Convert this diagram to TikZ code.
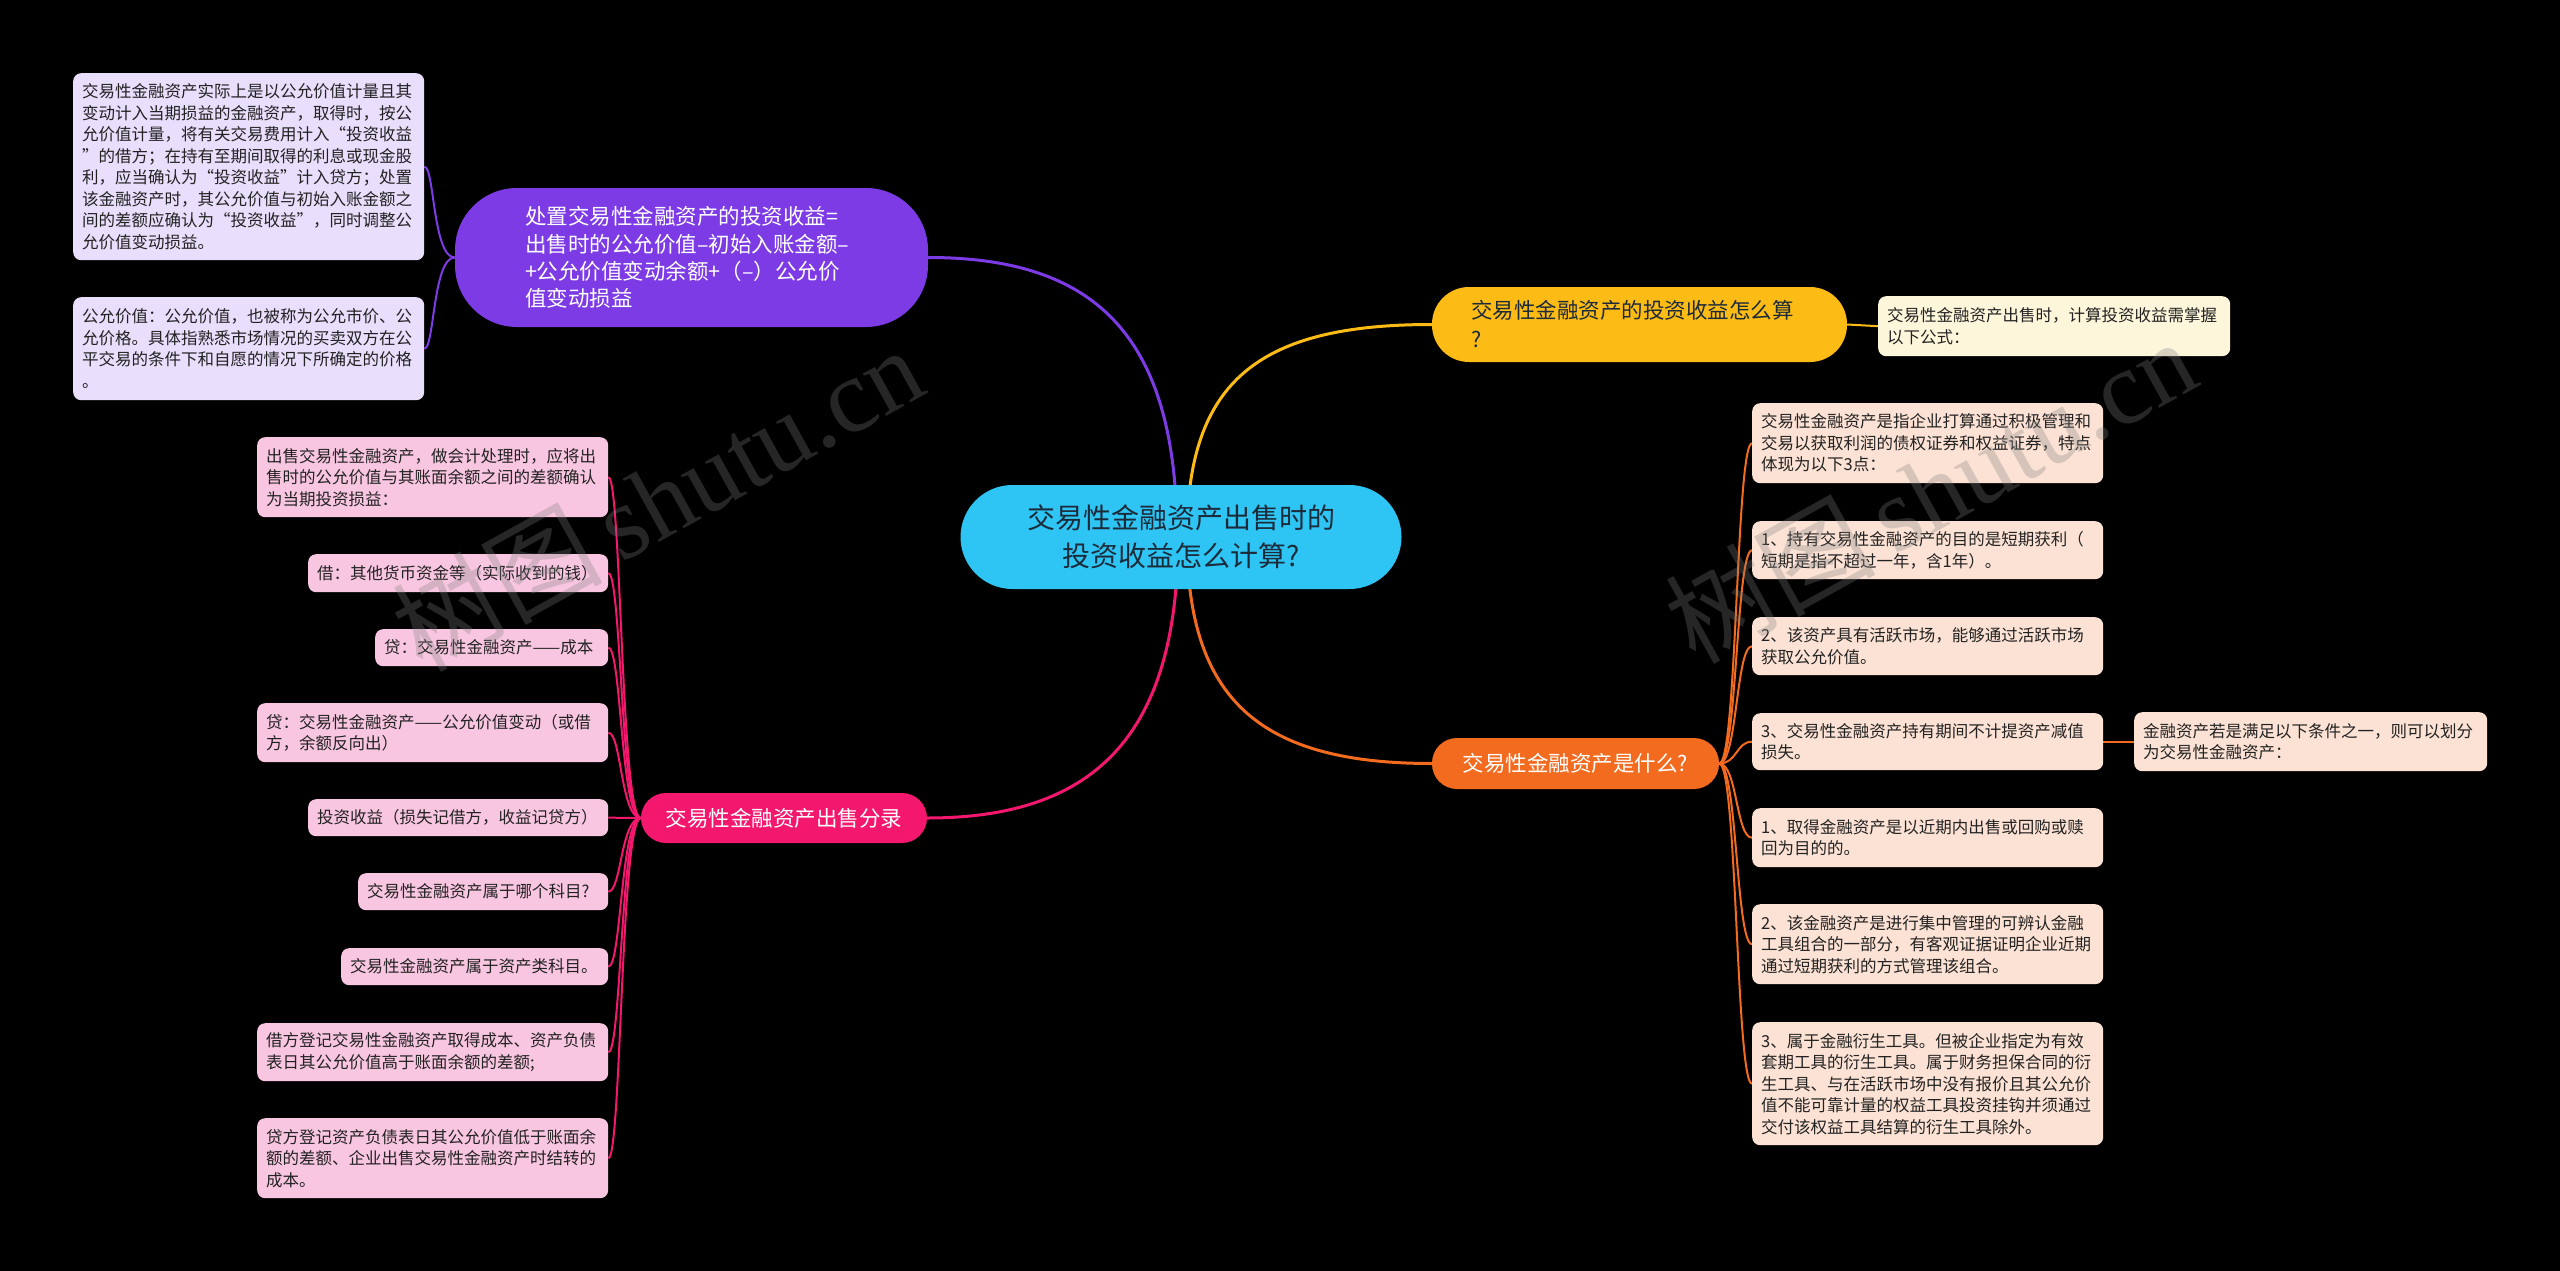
\documentclass[tikz,border=0pt]{standalone}
\usepackage{fontspec}
\setmainfont{Noto Sans CJK SC}
\newfontfamily\wmfont{Liberation Serif}
\pgfdeclarelayer{back}
\pgfdeclarelayer{links}
\pgfsetlayers{back,links,main}
\definecolor{rootc}{HTML}{2EC5F4}
\definecolor{roottext}{HTML}{1C2B3A}
\definecolor{purc}{HTML}{7D3BE6}
\definecolor{purl}{HTML}{E9DEFB}
\definecolor{yelc}{HTML}{FDBB15}
\definecolor{yell}{HTML}{FEF6DB}
\definecolor{orac}{HTML}{F26B1E}
\definecolor{oral}{HTML}{FCE2D4}
\definecolor{pinc}{HTML}{F3176E}
\definecolor{pinl}{HTML}{F9C6E1}
\definecolor{leaftext}{HTML}{222222}
\tikzset{
  leafbox/.style={rounded corners=8pt, inner xsep=9pt, inner ysep=3pt, align=left,
    anchor=north west, text=leaftext, font=\fontsize{16.5}{21.5}\selectfont},
  mainlink/.style={line width=3pt},
  leaflink/.style={line width=2pt},
  wmark/.style={rotate=29, text=gray, opacity=0.3, font=\fontsize{105}{105}\selectfont}
}
\begin{document}
\begin{tikzpicture}[x=1pt,y=-1pt]
\useasboundingbox (0,0) rectangle (2560,1271);
\begin{pgfonlayer}{back}
\fill[black] (0,0) rectangle (2560,1271);
\end{pgfonlayer}

% root
\node[fill=rootc, rounded corners=52pt, minimum width=441pt, minimum height=104pt,
  align=center, text=roottext, font=\fontsize{28}{38}\selectfont] (root) at (1181,537)
  {交易性金融资产出售时的\\投资收益怎么计算?};

% purple branch
\node[fill=purc, rounded corners=62pt, minimum width=473pt, minimum height=139pt,
  inner xsep=70pt, text width=333pt, align=left, text=white,
  font=\fontsize{21.5}{27.4}\selectfont] (pm) at (691.5,257.5)
  {处置交易性金融资产的投资收益=\\出售时的公允价值–初始入账金额–\\+公允价值变动余额+（–）公允价\\值变动损益};
\node[leafbox, fill=purl, text width=333pt, minimum height=187pt] (pa) at (73,73)
  {交易性金融资产实际上是以公允价值计量且其\\变动计入当期损益的金融资产，取得时，按公\\允价值计量，将有关交易费用计入“投资收益\\”的借方；在持有至期间取得的利息或现金股\\利，应当确认为“投资收益”计入贷方；处置\\该金融资产时，其公允价值与初始入账金额之\\间的差额应确认为“投资收益”，同时调整公\\允价值变动损益。};
\node[leafbox, fill=purl, text width=333pt, minimum height=103pt] (pb) at (73,297)
  {公允价值：公允价值，也被称为公允市价、公\\允价格。具体指熟悉市场情况的买卖双方在公\\平交易的条件下和自愿的情况下所确定的价格\\。};

% yellow branch
\node[fill=yelc, rounded corners=37pt, minimum width=415pt, minimum height=75pt,
  inner xsep=39pt, text width=337pt, align=left, text=roottext,
  font=\fontsize{21.5}{29}\selectfont] (ym) at (1639.5,324.5)
  {交易性金融资产的投资收益怎么算\\?};
\node[leafbox, fill=yell, text width=334pt, minimum height=60pt] (yl) at (1878,296)
  {交易性金融资产出售时，计算投资收益需掌握\\以下公式：};

% orange branch
\node[fill=orac, rounded corners=25pt, minimum width=287pt, minimum height=51pt,
  text=white, font=\fontsize{21.5}{26}\selectfont] (om) at (1575.5,763.5)
  {交易性金融资产是什么?};
\node[leafbox, fill=oral, text width=333pt, minimum height=80pt] (oa) at (1752,403)
  {交易性金融资产是指企业打算通过积极管理和\\交易以获取利润的债权证券和权益证券，特点\\体现为以下3点：};
\node[leafbox, fill=oral, text width=333pt, minimum height=58pt] (ob) at (1752,521)
  {1、持有交易性金融资产的目的是短期获利（\\短期是指不超过一年，含1年）。};
\node[leafbox, fill=oral, text width=333pt, minimum height=58pt] (oc) at (1752,617)
  {2、该资产具有活跃市场，能够通过活跃市场\\获取公允价值。};
\node[leafbox, fill=oral, text width=333pt, minimum height=57pt] (od) at (1752,713)
  {3、交易性金融资产持有期间不计提资产减值\\损失。};
\node[leafbox, fill=oral, text width=335pt, minimum height=59pt] (odc) at (2134,712)
  {金融资产若是满足以下条件之一，则可以划分\\为交易性金融资产：};
\node[leafbox, fill=oral, text width=333pt, minimum height=59pt] (oe) at (1752,808)
  {1、取得金融资产是以近期内出售或回购或赎\\回为目的的。};
\node[leafbox, fill=oral, text width=333pt, minimum height=80pt] (of) at (1752,904)
  {2、该金融资产是进行集中管理的可辨认金融\\工具组合的一部分，有客观证据证明企业近期\\通过短期获利的方式管理该组合。};
\node[leafbox, fill=oral, text width=333pt, minimum height=123pt] (og) at (1752,1022)
  {3、属于金融衍生工具。但被企业指定为有效\\套期工具的衍生工具。属于财务担保合同的衍\\生工具、与在活跃市场中没有报价且其公允价\\值不能可靠计量的权益工具投资挂钩并须通过\\交付该权益工具结算的衍生工具除外。};

% pink branch
\node[fill=pinc, rounded corners=25pt, minimum width=286pt, minimum height=50pt,
  text=white, font=\fontsize{21.5}{26}\selectfont] (km) at (784,818)
  {交易性金融资产出售分录};
\node[leafbox, fill=pinl, text width=333pt, minimum height=80pt] (k1) at (257,437)
  {出售交易性金融资产，做会计处理时，应将出\\售时的公允价值与其账面余额之间的差额确认\\为当期投资损益：};
\node[leafbox, fill=pinl, text width=282pt, minimum height=38pt] (k2) at (308,554)
  {借：其他货币资金等（实际收到的钱）};
\node[leafbox, fill=pinl, text width=215pt, minimum height=37pt] (k3) at (375,629)
  {贷：交易性金融资产——成本};
\node[leafbox, fill=pinl, text width=333pt, minimum height=59pt] (k4) at (257,703)
  {贷：交易性金融资产——公允价值变动（或借\\方，余额反向出）};
\node[leafbox, fill=pinl, text width=282pt, minimum height=37pt] (k5) at (308,799)
  {投资收益（损失记借方，收益记贷方）};
\node[leafbox, fill=pinl, text width=232pt, minimum height=37pt] (k6) at (358,873)
  {交易性金融资产属于哪个科目?};
\node[leafbox, fill=pinl, text width=249pt, minimum height=37pt] (k7) at (341,948)
  {交易性金融资产属于资产类科目。};
\node[leafbox, fill=pinl, text width=333pt, minimum height=58pt] (k8) at (257,1023)
  {借方登记交易性金融资产取得成本、资产负债\\表日其公允价值高于账面余额的差额;};
\node[leafbox, fill=pinl, text width=333pt, minimum height=80pt] (k9) at (257,1118)
  {贷方登记资产负债表日其公允价值低于账面余\\额的差额、企业出售交易性金融资产时结转的\\成本。};

% connectors
\begin{pgfonlayer}{links}
\draw[mainlink, purc] ([xshift=-4pt]root.center) .. controls +(0,-207) and +(162,0) .. (pm.east);
\draw[mainlink, yelc] ([xshift=6pt]root.center) .. controls +(0,-157) and +(-172,0) .. (ym.west);
\draw[mainlink, orac] ([xshift=6pt]root.center) .. controls +(0,163) and +(-172,0) .. (om.west);
\draw[mainlink, pinc] ([xshift=-3pt]root.center) .. controls +(0,203) and +(163,0) .. (km.east);

\foreach \n in {pa,pb}
  \draw[leaflink, purc] (pm.west) .. controls +(-22,0) and +(10,0) .. (\n.east);
\draw[leaflink, yelc] (ym.east) -- (yl.west);
\foreach \n in {oa,ob,oc,od,oe,of,og}
  \draw[leaflink, orac] (om.east) .. controls +(18,0) and +(-16,0) .. (\n.west);
\draw[leaflink, orac] (od.east) -- (odc.west);
\foreach \n in {k1,k2,k3,k4,k5,k6,k7,k8,k9}
  \draw[leaflink, pinc] (km.west) .. controls +(-20,0) and +(13,0) .. (\n.east);
\end{pgfonlayer}

% watermarks
\node[wmark] (wm1) at (657,498) {树图\,{\wmfont shutu.cn}};
\node[wmark] (wm2) at (1930,490) {树图\,{\wmfont shutu.cn}};
\end{tikzpicture}
\end{document}
